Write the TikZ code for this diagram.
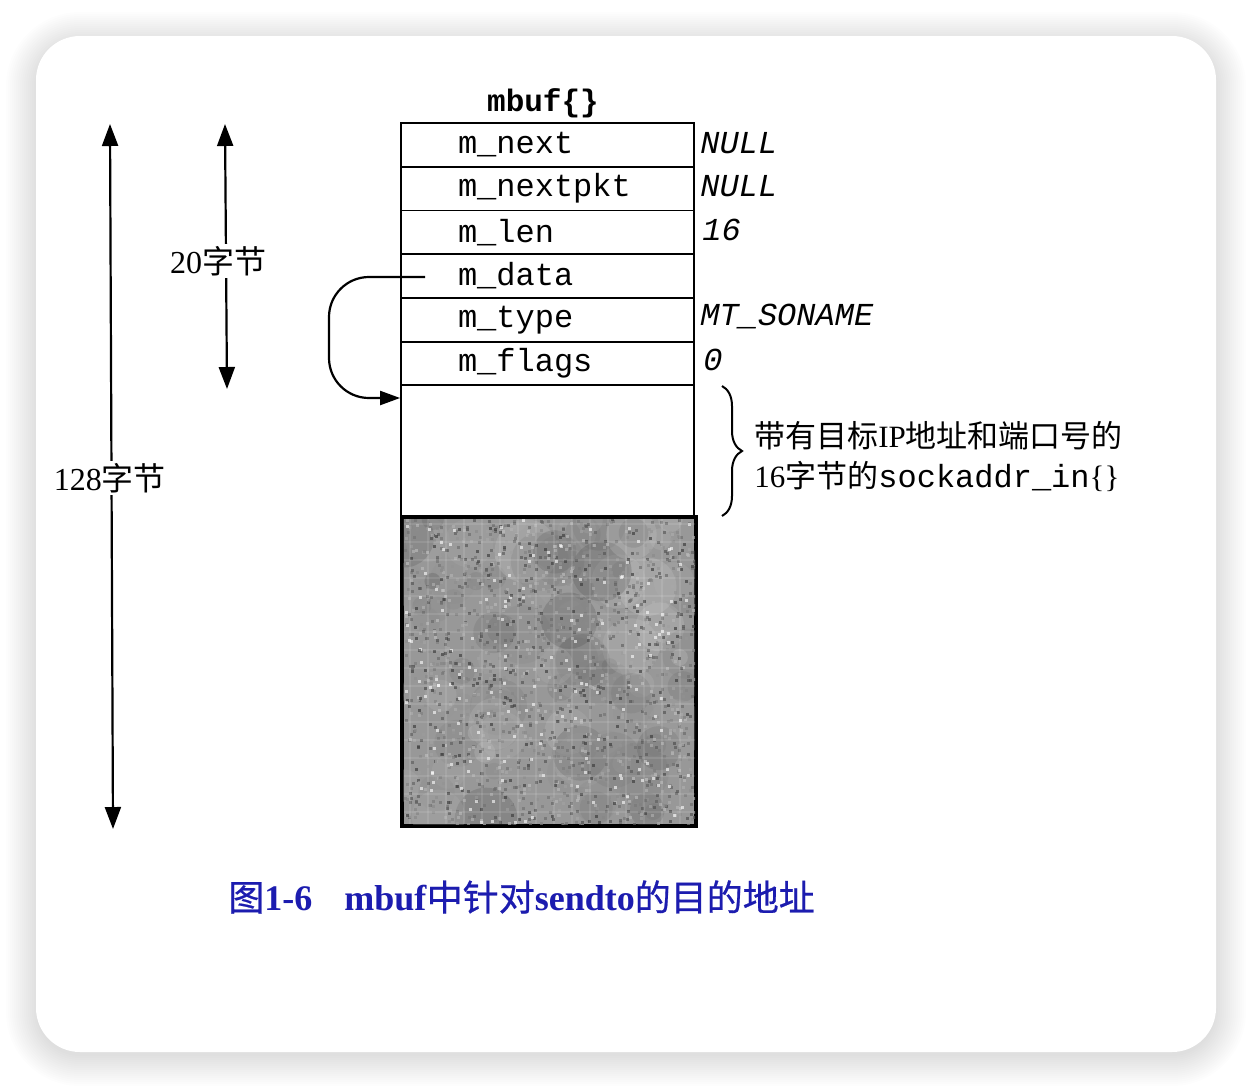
\documentclass[tikz,border=0pt]{standalone}
\usepackage{fontspec}
\setmainfont{Liberation Serif}
\setmonofont{Liberation Mono}
\newfontfamily\cjk{Noto Sans CJK SC}
\newfontfamily\cjkb{Noto Sans CJK SC}[FakeBold=0.6]
\usetikzlibrary{arrows.meta,decorations.pathreplacing}
\definecolor{capblue}{RGB}{28,28,175}
\definecolor{texgray}{RGB}{152,152,152}
\tikzset{
  field/.style={draw, line width=0.9pt, minimum height=21.85pt, text width=89.5pt,
    inner xsep=28.5pt, inner ysep=0pt, align=left, font=\ttfamily\fontsize{16}{18}\selectfont},
  val/.style={anchor=west, inner sep=0pt, font=\ttfamily\itshape\fontsize{16}{18}\selectfont},
  dim/.style={line width=1.1pt, {Triangle[length=11pt,width=8pt]}-{Triangle[length=11pt,width=8pt]}},
  dimlabel/.style={fill=white, inner sep=1pt, font=\fontsize{16}{18}\selectfont},
  note/.style={anchor=west, inner sep=0pt, font=\fontsize{15.5}{20}\selectfont, align=left}
}
\begin{document}
\begin{tikzpicture}[x=0.5pt,y=-0.5pt]
\useasboundingbox (0,0) rectangle (1252,1088);
\fill[white] (0,0) rectangle (1252,1088);
% shadow
\foreach \s in {30,28,...,0}{
  \fill[black,opacity=0.008,rounded corners=22pt+\s*0.5pt] (36-\s,36-\s+6) rectangle (1216+\s,1052+\s+4);
}
\fill[white,rounded corners=22pt] (36,36) rectangle (1216,1052);

% title
\node[font=\ttfamily\bfseries\fontsize{15.5}{18}\selectfont, inner sep=0pt] (title) at (543,103) {mbuf\{\}};

% rows
\node[field] (r1) at (547.5,145.0) {m\_next};
\node[field] (r2) at (547.5,188.7) {m\_nextpkt};
\node[field] (r3) at (547.5,232.4) {m\_len};
\node[field] (r4) at (547.5,276.1) {m\_data};
\node[field] (r5) at (547.5,319.8) {m\_type};
\node[field] (r6) at (547.5,363.5) {m\_flags};

% sockaddr area
\node[draw, line width=0.9pt, minimum width=146.5pt, minimum height=66pt, inner sep=0pt] (sa) at (547.5,451.4) {};
% gray data area
\node[draw, line width=1.1pt, fill=texgray, minimum width=146.5pt, minimum height=154pt, inner sep=0pt] (gray) at (549,671.4) {};
\begin{scope}
\clip (403,519) rectangle (695,824);
\pgfmathsetseed{11}
\foreach \i in {1,...,110}{
  \pgfmathsetmacro\xx{404+292*rnd}
  \pgfmathsetmacro\yy{518+306*rnd}
  \pgfmathsetmacro\rr{8+24*rnd}
  \pgfmathsetmacro\gg{round(20+50*rnd)}
  \fill[black!\gg, opacity=0.25] (\xx,\yy) circle (\rr);
}
\foreach \i in {1,...,1600}{
  \pgfmathsetmacro\xx{404+292*rnd}
  \pgfmathsetmacro\yy{518+306*rnd}
  \pgfmathsetmacro\gg{round(25+45*rnd)}
  \fill[black!\gg, opacity=0.7] (\xx,\yy) rectangle ++(3,3);
}
\foreach \i in {1,...,160}{
  \pgfmathsetmacro\xx{404+292*rnd}
  \pgfmathsetmacro\yy{518+306*rnd}
  \fill[black!75, opacity=0.7] (\xx,\yy) rectangle ++(3,3);
  \pgfmathsetmacro\xx{404+292*rnd}
  \pgfmathsetmacro\yy{518+306*rnd}
  \fill[white, opacity=0.6] (\xx,\yy) rectangle ++(3,3);
}
\foreach \xx in {410,428,...,696}{ \draw[white,opacity=0.1,line width=1pt] (\xx,518) -- (\xx,824); }
\foreach \yy in {524,542,...,824}{ \draw[white,opacity=0.1,line width=1pt] (404,\yy) -- (696,\yy); }
\end{scope}
\draw[line width=1.1pt] (gray.north west) rectangle (gray.south east);

% values
\node[val] (v1) at (700,143) {NULL};
\node[val] (v2) at (700,186) {NULL};
\node[val] (v3) at (702,230) {16};
\node[val] (v5) at (700,317) {MT\_SONAME};
\node[val] (v6) at (703,360) {0};

% m_data pointer
\coordinate (ds) at (425,277);
\coordinate (de) at (sa.north west |- 0,398);
\draw[line width=1.1pt, rounded corners=20pt, -{Triangle[length=10pt,width=7pt]}]
  (ds) -- (329,277) -- (329,398) -- (de);

% dimension arrows
\coordinate (a1t) at (110,124);
\coordinate (a1b) at (113,829);
\draw[dim] (a1t) -- (a1b);
\node[dimlabel] (l128) at (110,478) {128{\cjk 字节}};
\coordinate (a2t) at (225,124);
\coordinate (a2b) at (227,389);
\draw[dim] (a2t) -- (a2b);
\node[dimlabel] (l20) at (218,261) {20{\cjk 字节}};

% brace
\coordinate (bt) at (722,386);
\coordinate (bb) at (722,516);
\draw[line width=1pt, decorate, decoration={brace, amplitude=10pt, aspect=0.5}] (bt) -- (bb);
\node[note] (n1) at (754,436) {{\cjk 带有目标}IP{\cjk 地址和端口号的}};
\node[note] (n2) at (754,476) {16{\cjk 字节的}{\ttfamily\fontsize{16}{18}\selectfont sockaddr\_in}\{\}};

% caption
\node[anchor=west, inner sep=0pt, text=capblue, font=\fontsize{18}{20}\selectfont] (cap) at (228,897)
  {{\cjkb 图}\textbf{1-6}\hspace{16pt}\textbf{mbuf}{\cjkb 中针对}\textbf{sendto}{\cjkb 的目的地址}};
\end{tikzpicture}
\end{document}
